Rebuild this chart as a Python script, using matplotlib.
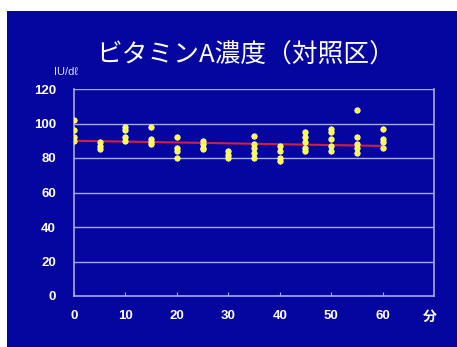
import matplotlib
matplotlib.use("Agg")
import matplotlib.pyplot as plt
from matplotlib.patches import Rectangle
import numpy as np

plt.rcParams['font.family'] = ['Liberation Sans', 'Noto Sans CJK JP', 'DejaVu Sans']

# Data: minutes -> measured vitamin A values (IU/dl)
minutes = [0, 5, 10, 15, 20, 25, 30, 35, 40, 45, 50, 55, 60]
values = [
    [102, 96, 92, 90],
    [89, 87, 85],
    [98, 96, 92, 90],
    [98, 91, 89, 88],
    [92, 86, 84, 80],
    [90, 88, 86, 85],
    [84, 82, 80],
    [93, 88, 86, 83, 80],
    [87, 84, 80, 78],
    [95, 92, 89, 86, 84],
    [97, 95, 91, 87, 84],
    [108, 92, 88, 86, 83],
    [97, 91, 89, 86],
]
trend_x = [0, 60]
trend_y = [90, 87]
x_ticks = [0, 10, 20, 30, 40, 50, 60]
y_ticks = [0, 20, 40, 60, 80, 100, 120]
title = "ビタミンA濃度（対照区）"
y_unit = "IU/dℓ"
x_unit = "分"

W, H = 457, 347
fig = plt.figure(figsize=(W / 100, H / 100), dpi=100, facecolor='white')
bg = '#0505a0'
fig.patches.append(Rectangle((7 / W, 0), 1 - 7 / W, 1 - 11 / H, transform=fig.transFigure,
                             facecolor=bg, edgecolor='none', zorder=-10))

ax = fig.add_axes([74 / W, 51 / H, (434 - 74) / W, (296 - 89) / H])
ax.set_zorder(1)
ax.set_facecolor(bg)
ax.set_xlim(0, 70)
ax.set_ylim(0, 120)

grid_c = '#a8a8f0'
for y in y_ticks[1:]:
    ax.axhline(y, color=grid_c, lw=1.0, zorder=1)
for s in ['left', 'bottom', 'right']:
    ax.spines[s].set_color(grid_c)
    ax.spines[s].set_linewidth(1.2)
ax.spines['top'].set_visible(False)

ax.set_xticks(x_ticks)
ax.set_yticks(y_ticks)
ax.tick_params(axis='x', direction='in', length=3, color=grid_c, pad=10,
               labelcolor='white', labelsize=9.5)
ax.tick_params(axis='y', length=0, pad=13, labelcolor='white', labelsize=9.5)
for lab in ax.get_xticklabels() + ax.get_yticklabels():
    lab.set_fontweight('bold')

ax.plot(trend_x, trend_y, color='#d02040', lw=1.5, zorder=2)

for m, vals in zip(minutes, values):
    ax.scatter([m] * len(vals), vals, s=15, color='#ffff30', edgecolors='#fff8c0',
               linewidths=0.6, zorder=3)

fig.text(246 / W, 1 - 56 / H, title, color='white', fontsize=18.5, ha='center', va='center',
         family=['Noto Sans CJK JP', 'DejaVu Sans'])
fig.text(66 / W, 1 - 72 / H, y_unit, color='#e0e0ff', fontsize=8, ha='center', va='center',
         family=['Liberation Sans', 'DejaVu Sans'])
fig.text(430 / W, 1 - 317 / H, x_unit, color='white', fontsize=10, ha='center', va='center',
         fontweight='bold', family=['Noto Sans CJK JP'])

fig.savefig('out.png', dpi=100, facecolor='white')
